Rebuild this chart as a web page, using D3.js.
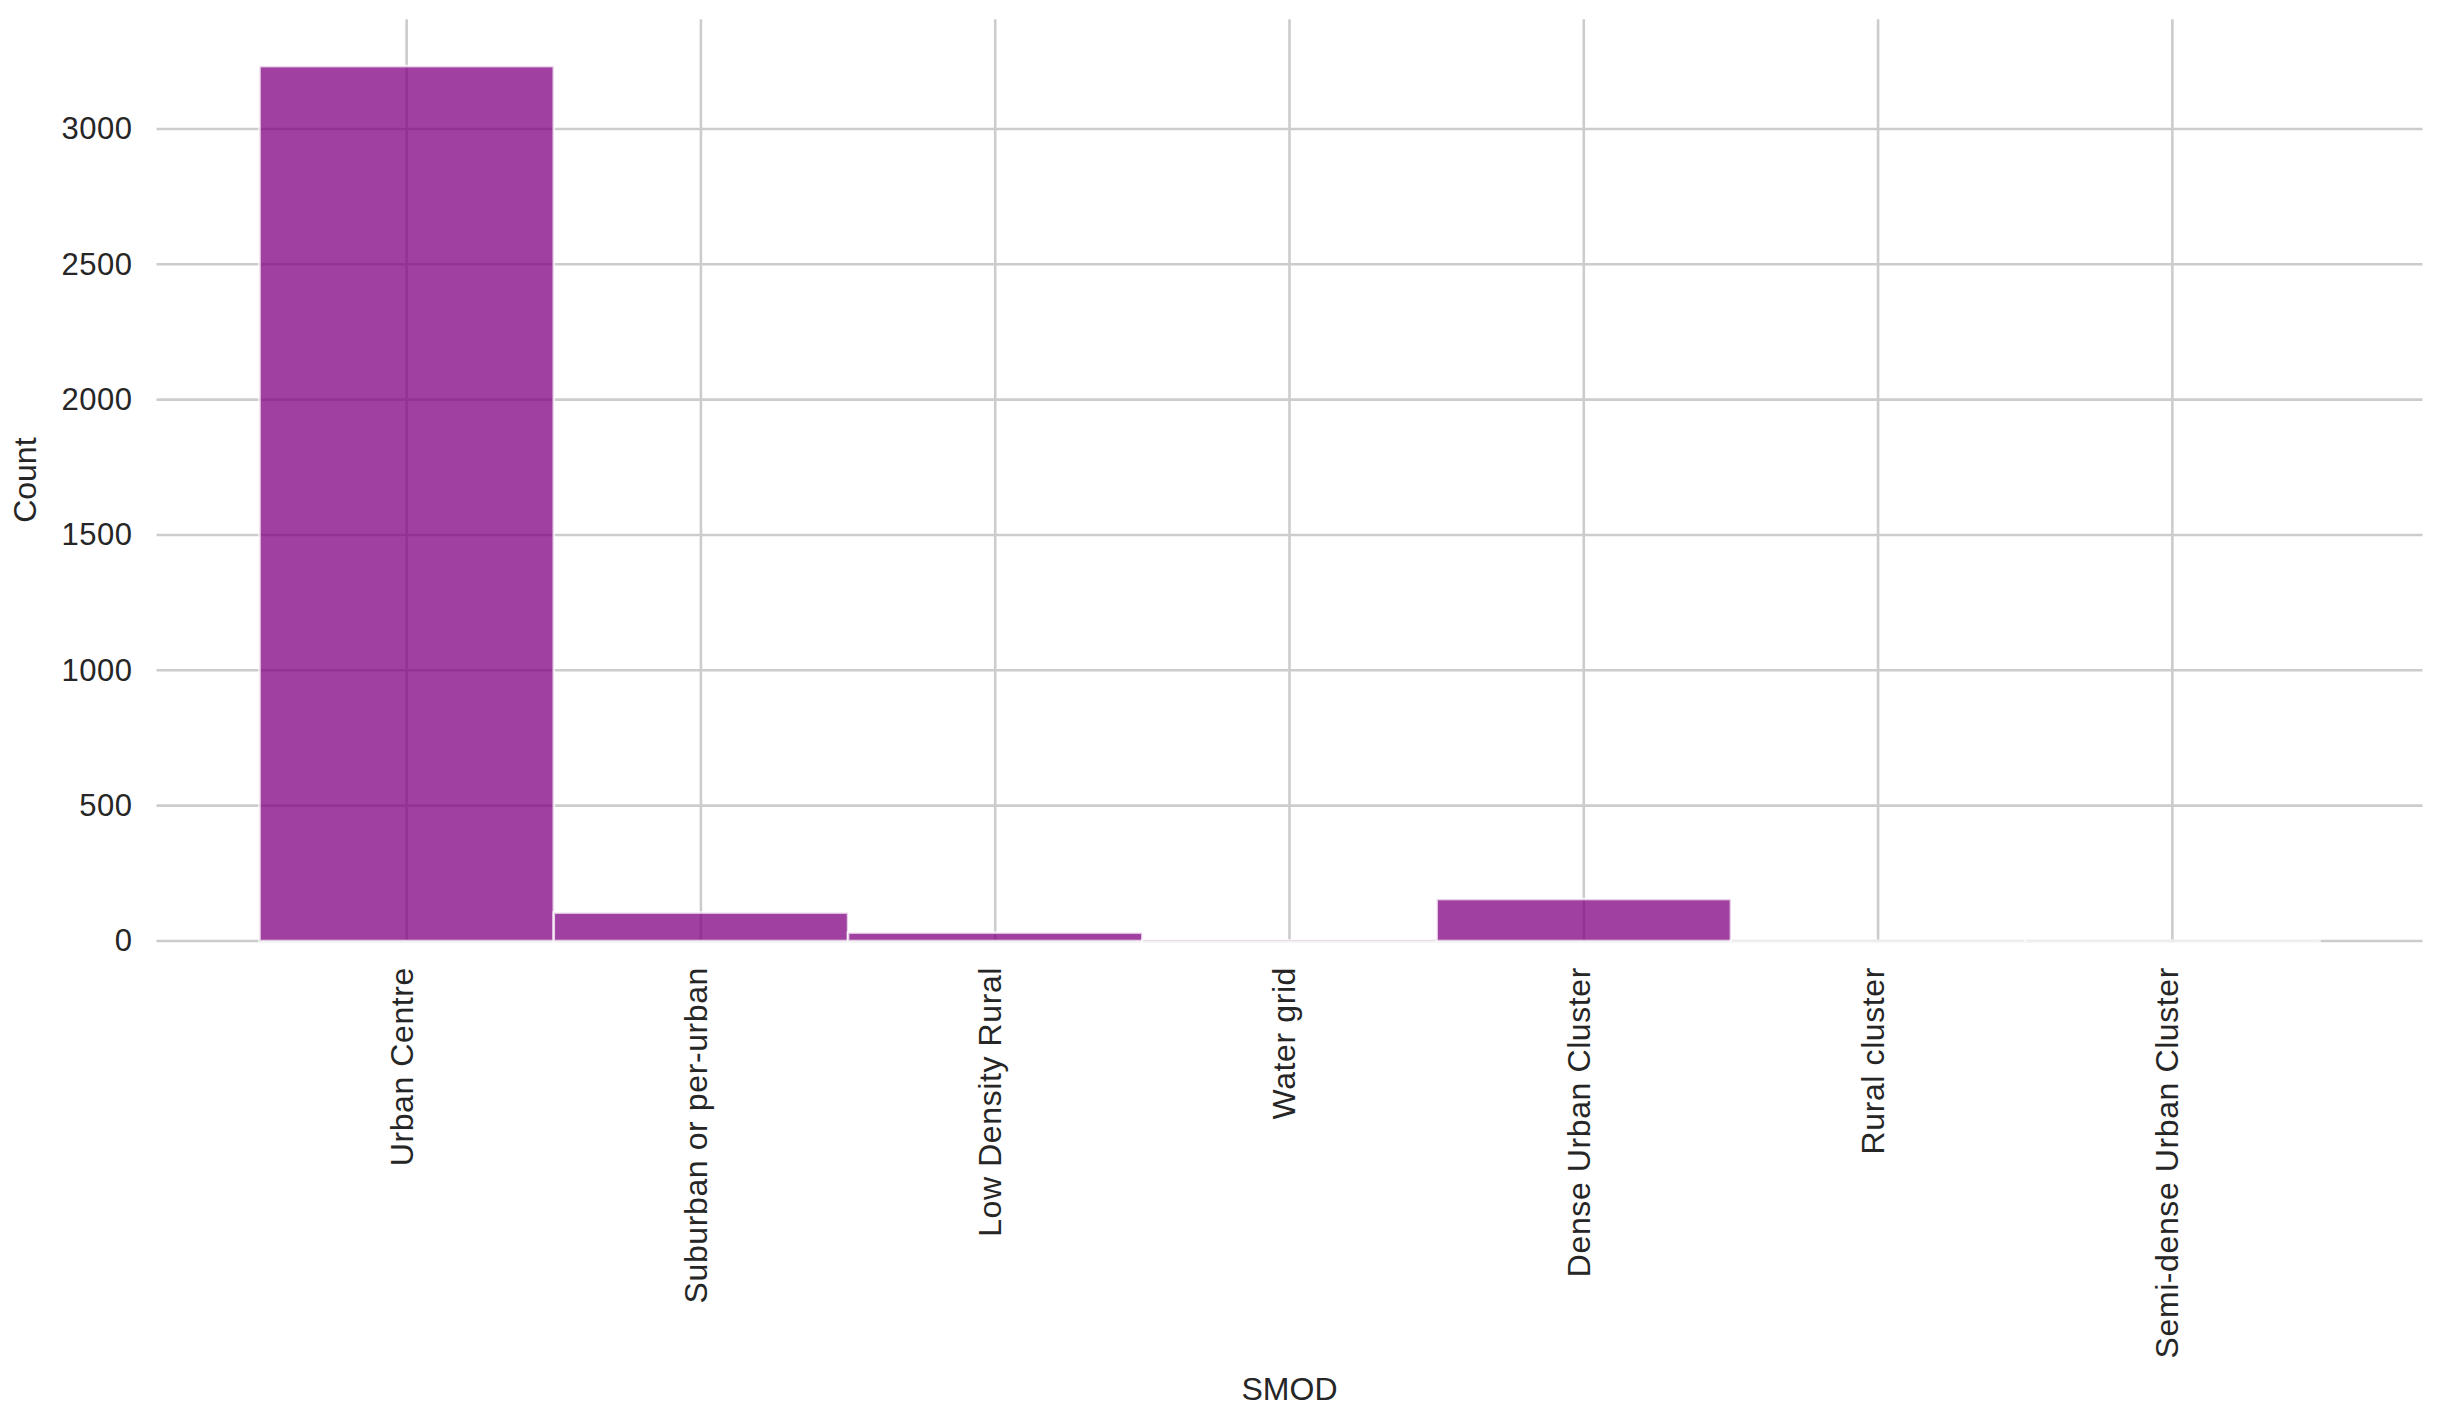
<!DOCTYPE html>
<html>
<head>
<meta charset="utf-8">
<script src="https://cdn.jsdelivr.net/npm/d3@7"></script>
<style>
  body { margin: 0; background: #fff; }
  text { font-family: "Liberation Sans", Arial, sans-serif; fill: #262626; }
</style>
</head>
<body>
<svg id="chart"></svg>
<script>
// categories on the x axis (SMOD classes)
var categories = ["Urban Centre", "Suburban or per-urban", "Low Density Rural", "Water grid",
                  "Dense Urban Cluster", "Rural cluster", "Semi-dense Urban Cluster"];
// counts per category
var counts = [3232, 105, 31, 2, 155, 1, 1];
var yTicks = [0, 500, 1000, 1500, 2000, 2500, 3000];

var width = 2444;
var height = 1422;

var svg = d3.select("#chart")
  .attr("width", width)
  .attr("height", height);

// plot area (window.top is reserved, so use other names)
var plotLeft = 156.5, plotRight = 2422.5, plotTop = 19.3, plotBottom = 941;

var x = d3.scaleLinear()
  .domain([-0.85, categories.length - 1 + 0.85])
  .range([plotLeft, plotRight]);

var y = d3.scaleLinear()
  .domain([0, 3405])
  .range([plotBottom, plotTop]);

// grid
var grid = svg.append("g");
grid.selectAll(".hgrid")
  .data(yTicks)
  .enter().append("line")
  .attr("x1", plotLeft).attr("x2", plotRight)
  .attr("y1", function(d){ return y(d); })
  .attr("y2", function(d){ return y(d); })
  .attr("stroke", "#cccccc")
  .attr("stroke-width", 2.6);

grid.selectAll(".vgrid")
  .data(d3.range(categories.length))
  .enter().append("line")
  .attr("x1", function(d){ return x(d); })
  .attr("x2", function(d){ return x(d); })
  .attr("y1", plotTop).attr("y2", plotBottom)
  .attr("stroke", "#cccccc")
  .attr("stroke-width", 2.6);

// bars (histogram style, one bin per category)
svg.append("g").selectAll("rect")
  .data(counts)
  .enter().append("rect")
  .attr("x", function(d, i){ return x(i - 0.5); })
  .attr("width", function(d, i){ return x(i + 0.5) - x(i - 0.5); })
  .attr("y", function(d){ return y(d); })
  .attr("height", function(d){ return y(0) - y(d); })
  .attr("fill", "purple")
  .attr("fill-opacity", 0.75)
  .attr("stroke", "#ffffff")
  .attr("stroke-opacity", 0.75)
  .attr("stroke-width", 2.6);

// y axis
var yAxis = svg.append("g")
  .attr("transform", "translate(" + plotLeft + ",0)")
  .call(d3.axisLeft(y).tickValues(yTicks).tickFormat(d3.format("d")).tickSize(0).tickPadding(24));
yAxis.select(".domain").remove();
yAxis.selectAll("text")
  .attr("font-size", 31)
  .attr("letter-spacing", "0.5px")
  .attr("font-family", null)
  .attr("fill", "#262626");

// x axis, labels rotated
var xAxis = svg.append("g")
  .attr("transform", "translate(0," + plotBottom + ")")
  .call(d3.axisBottom(x)
    .tickValues(d3.range(categories.length))
    .tickFormat(function(i){ return categories[i]; })
    .tickSize(0));
xAxis.select(".domain").remove();
xAxis.selectAll("text")
  .attr("font-size", 32)
  .attr("letter-spacing", "0.6px")
  .attr("font-family", null)
  .attr("fill", "#262626")
  .attr("text-anchor", "end")
  .attr("transform", "rotate(-90)")
  .attr("x", -26)
  .attr("y", 0)
  .attr("dy", "0.17em");

// axis titles
svg.append("text")
  .attr("x", (plotLeft + plotRight) / 2)
  .attr("y", 1400)
  .attr("text-anchor", "middle")
  .attr("font-size", 32)
  .text("SMOD");

svg.append("text")
  .attr("transform", "translate(36," + ((plotTop + plotBottom) / 2) + ") rotate(-90)")
  .attr("text-anchor", "middle")
  .attr("font-size", 32)
  .text("Count");
</script>
</body>
</html>
